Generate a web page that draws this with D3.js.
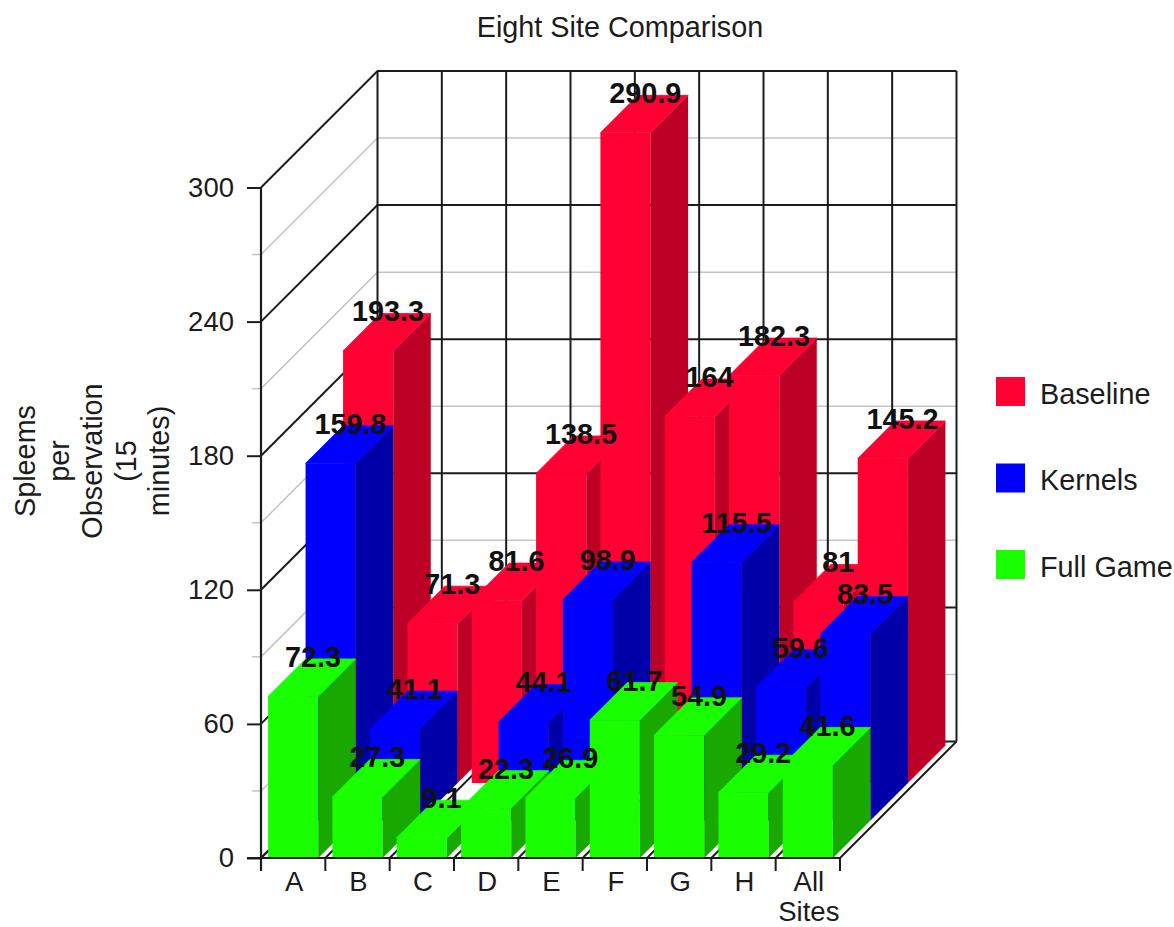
<!DOCTYPE html>
<html>
<head>
<meta charset="utf-8">
<script src="https://cdn.jsdelivr.net/npm/d3@7"></script>
<style>
  html, body { margin: 0; padding: 0; background: #fff; }
  text { font-family: "Liberation Sans", Arial, sans-serif; }
</style>
</head>
<body>
<div id="chart"></div>
<script>
const categories = ["A", "B", "C", "D", "E", "F", "G", "H", "All Sites"];
const seriesNames = ["Baseline", "Kernels", "Full Game"];
const baseline = [193.3, 71.3, 81.6, 138.5, 290.9, 164, 182.3, 81, 145.2];
const kernels = [159.8, 41.1, null, 44.1, 98.9, null, 115.5, 59.6, 83.5];
const fullGame = [72.3, 27.3, 9.1, 22.3, 26.9, 61.7, 54.9, 29.2, 41.6];
const seriesValues = [baseline, kernels, fullGame];
const yTicks = [0, 60, 120, 180, 240, 300];
const yMinorTicks = [30, 90, 150, 210, 270];
const yTitleLines = ["Spleems", "per", "Observation", "(15", "minutes)"];

const width = 1174, height = 927;
const front = { left: 261, right: 840, top: 187.5, bottom: 858 };
const wallDepth = 116.5, barDepth = 37.5;
const axisFont = 27.5, textFont = 28.8;

const colors = {
  "Baseline": { front: "#ff0033", side: "#bc0026" },
  "Kernels": { front: "#0000ff", side: "#0000a8" },
  "Full Game": { front: "#19ff00", side: "#18a800" }
};

const svg = d3.select("#chart").append("svg")
  .attr("width", width)
  .attr("height", height)
  .style("display", "block");

const x = d3.scaleBand()
  .domain(categories)
  .range([front.left, front.right])
  .paddingInner(0.22)
  .paddingOuter(0.11);
const y = d3.scaleLinear().domain([0, 300]).range([front.bottom, front.top]);
// depth of each lane, front lane first
const z = d3.scalePoint().domain(["Full Game", "Kernels", "Baseline"]).range([0, barDepth * 2]);

const poly = d3.line();
const ink = "#1c1c1c";

// Walls and floor
const grid = svg.append("g").attr("fill", "none");
function wallLine(v, color, w) {
  const yy = y(v);
  grid.append("path")
    .attr("d", poly([[front.left, yy], [front.left + wallDepth, yy - wallDepth], [front.right + wallDepth, yy - wallDepth]]))
    .attr("stroke", color)
    .attr("stroke-width", w);
}
yMinorTicks.forEach(v => wallLine(v, "#c4c4c4", 1.5));
yTicks.forEach(v => wallLine(v, ink, 2));

// vertical lines on the back wall, diagonals on the floor
const edges = [front.left].concat(categories.map(c => x(c) - x.step() * x.paddingInner() / 2 + x.step()));
edges.forEach(ex => {
  grid.append("line")
    .attr("x1", ex + wallDepth).attr("x2", ex + wallDepth)
    .attr("y1", y(300) - wallDepth).attr("y2", y(0) - wallDepth)
    .attr("stroke", ink).attr("stroke-width", 2);
  grid.append("line")
    .attr("x1", ex).attr("x2", ex + wallDepth)
    .attr("y1", y(0)).attr("y2", y(0) - wallDepth)
    .attr("stroke", ink).attr("stroke-width", 2);
});

// Bars, back lane first and left to right so nearer ones cover the sides
const bars = svg.append("g");
seriesNames.forEach((name, si) => {
  const dz = z(name);
  const c = colors[name];
  const data = categories
    .map((cat, i) => ({ cat, value: seriesValues[si][i] }))
    .filter(d => d.value !== null);
  const g = bars.selectAll(null).data(data).join("g");
  g.append("rect")
    .attr("x", d => x(d.cat) + dz)
    .attr("y", d => y(d.value) - dz)
    .attr("width", x.bandwidth())
    .attr("height", d => y(0) - y(d.value))
    .attr("fill", c.front);
  g.append("path")
    .attr("fill", c.side)
    .attr("d", d => {
      const x1 = x(d.cat) + dz + x.bandwidth();
      const t = y(d.value) - dz, b = y(0) - dz;
      return poly([[x1, t], [x1 + barDepth, t - barDepth], [x1 + barDepth, b - barDepth], [x1, b]]) + "Z";
    });
  // top face is the front colour, the thin stroke closes the seam between them
  g.append("path")
    .attr("fill", c.front)
    .attr("stroke", c.front)
    .attr("stroke-width", 0.8)
    .attr("d", d => {
      const x0 = x(d.cat) + dz, x1 = x0 + x.bandwidth();
      const t = y(d.value) - dz;
      return poly([[x0, t], [x0 + barDepth, t - barDepth], [x1 + barDepth, t - barDepth], [x1, t]]) + "Z";
    });
});

// Value labels go over every bar
const labels = svg.append("g")
  .attr("font-size", textFont)
  .attr("font-weight", "bold")
  .attr("text-anchor", "middle")
  .attr("fill", "#111");
seriesNames.forEach((name, si) => {
  const dz = z(name);
  categories.forEach((cat, i) => {
    const v = seriesValues[si][i];
    if (v === null) return;
    labels.append("text")
      .attr("x", x(cat) + dz + (x.bandwidth() + barDepth) / 2 + 1)
      .attr("y", y(v) - dz - barDepth + 8)
      .text(v);
  });
});

// Y axis
const yAxis = svg.append("g").attr("transform", `translate(${front.left},0)`)
  .call(d3.axisLeft(y).tickValues(yTicks).tickSize(14).tickPadding(13).tickFormat(d3.format("d")));
yAxis.select(".domain").remove();
yAxis.selectAll("line").attr("stroke", ink).attr("stroke-width", 2);
yAxis.selectAll("text").attr("font-size", axisFont).attr("fill", ink)
  .attr("font-family", '"Liberation Sans", Arial, sans-serif');

svg.append("g").selectAll("line").data(yMinorTicks).join("line")
  .attr("x1", front.left - 9).attr("x2", front.left)
  .attr("y1", d => y(d)).attr("y2", d => y(d))
  .attr("stroke", "#c4c4c4").attr("stroke-width", 1.5);

svg.append("line")
  .attr("x1", front.left).attr("x2", front.left)
  .attr("y1", y(300)).attr("y2", y(0) + 13)
  .attr("stroke", ink).attr("stroke-width", 2.2);
svg.append("line")
  .attr("x1", front.left - 14).attr("x2", front.right)
  .attr("y1", y(0)).attr("y2", y(0))
  .attr("stroke", ink).attr("stroke-width", 2.2);

// X axis
svg.append("g").selectAll("line").data(edges).join("line")
  .attr("x1", d => d).attr("x2", d => d)
  .attr("y1", y(0)).attr("y2", y(0) + 13)
  .attr("stroke", ink).attr("stroke-width", 2);

const xLabels = svg.append("g")
  .attr("font-size", axisFont)
  .attr("text-anchor", "middle")
  .attr("fill", ink);
categories.forEach(cat => {
  const t = xLabels.append("text").attr("y", 891);
  cat.split(" ").forEach((word, i) => {
    t.append("tspan")
      .attr("x", x(cat) + x.bandwidth() / 2 + 1)
      .attr("dy", i ? 30 : 0)
      .text(word);
  });
});

// Y title, one rotated column per word
const yTitleX = d3.scalePoint().domain(yTitleLines).range([35, 169]);
svg.append("g").selectAll("text").data(yTitleLines).join("text")
  .attr("transform", d => `translate(${yTitleX(d)},461) rotate(-90)`)
  .attr("text-anchor", "middle")
  .attr("font-size", textFont)
  .attr("fill", ink)
  .text(d => d);

// Title
svg.append("text")
  .attr("x", 620).attr("y", 37)
  .attr("text-anchor", "middle")
  .attr("font-size", textFont)
  .attr("fill", ink)
  .text("Eight Site Comparison");

// Legend
const legendY = d3.scalePoint().domain(seriesNames).range([377, 550]);
const legend = svg.append("g").selectAll("g").data(seriesNames).join("g")
  .attr("transform", d => `translate(996,${legendY(d)})`);
legend.append("rect")
  .attr("width", 29).attr("height", 29)
  .attr("fill", d => colors[d].front);
legend.append("text")
  .attr("x", 44).attr("y", 26.5)
  .attr("font-size", textFont)
  .attr("fill", ink)
  .text(d => d);
</script>
</body>
</html>
